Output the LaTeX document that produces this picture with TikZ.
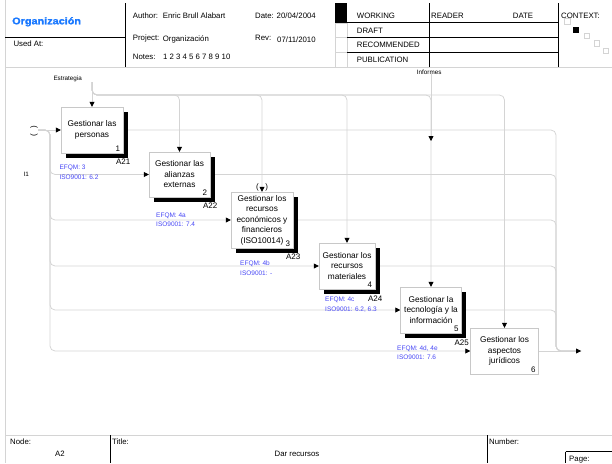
\documentclass[tikz,border=0pt]{standalone}
\usepackage{fontspec}
\setmainfont{Liberation Sans}
\newfontfamily\fuentetit[UprightFont={* Bold}, FakeStretch=1.12, FakeBold=1.5]{Liberation Sans}
\usetikzlibrary{positioning, shapes, arrows.meta, shadows, backgrounds}

\definecolor{gris}{RGB}{212,212,212}
\definecolor{grisborde}{RGB}{200,200,200}
\definecolor{azul}{RGB}{70,70,245}
\definecolor{azultit}{RGB}{25,120,255}

\begin{document}
\begin{tikzpicture}[x=1pt, y=-1pt,
	funcion/.style={rectangle, draw=grisborde, fill=white, align=center, inner sep=1pt, font=\fontsize{8.3}{10.5}\selectfont},
	sombra/.style={general shadow={fill=black, shadow xshift=4.5pt, shadow yshift=-4.5pt}},
	num/.style={inner sep=0pt, font=\fontsize{8}{9}\selectfont},
	calidad/.style={anchor=north west, inner sep=0pt, align=left, text=azul, font=\fontsize{6.5}{9.5}\selectfont},
	etiq/.style={anchor=base west, inner sep=0pt, font=\fontsize{6.3}{7}\selectfont},
	cab/.style={anchor=base west, inner sep=0pt, font=\fontsize{7.8}{9}\selectfont},
	cable/.style={draw=gris, line width=0.75pt, rounded corners=5pt},
	flecha/.style={cable, -{Triangle[length=5pt, width=5pt, color=black]}}]
	\useasboundingbox (0,0) rectangle (612,463);

	% Marco
	\draw[gris, line width=0.75pt] (5,0) -- (5,463);
	\draw[gris, line width=0.75pt] (5,67) -- (612,67);
	\draw[gris, line width=0.75pt] (5,435) -- (612,435);

	% Cabecera
	\draw[line width=0.8pt] (125,3) -- (125,67);
	\draw[line width=0.8pt] (5,37.3) -- (125,37.3);
	\node[anchor=base west, inner sep=0pt, text=azultit, font=\fontsize{9.7}{11}\fuentetit] (torg) at (12,24.3) {Organización};
	\node[cab] (tusa) at (13.3,46.7) {Used At:};
	\node[cab] (taut) at (132.7,18.3) {Author:};
	\node[cab] (tautn) at (162.7,18.3) {Enric Brull Alabart};
	\node[cab] (tdat) at (255,18.3) {Date: 20/04/2004};
	\node[cab] (tpro) at (132.7,40) {Project:};
	\node[cab] (tpron) at (162.7,41.7) {Organización};
	\node[cab] (trev) at (255,40.7) {Rev:};
	\node[cab] (trevn) at (277,42.3) {07/11/2010};
	\node[cab] (tnot) at (132.7,59.3) {Notes:};
	\node[cab] (tnotn) at (163,59.3) {1 2 3 4 5 6 7 8 9 10};

	% Estado
	\fill (335,3) rectangle (347,22.7);
	\draw[gris] (335,22.7) rectangle (347,37.3) (335,37.3) rectangle (347,52.3) (335,52.3) rectangle (347,67);
	\draw[line width=0.8pt] (347,22.7) -- (558.7,22.7) (347,37.3) -- (558.7,37.3) (347,52.3) -- (558.7,52.3);
	\draw[line width=0.8pt] (429.3,3) -- (429.3,67) (558.7,3) -- (558.7,67);
	\node[cab] (twor) at (356.7,18.3) {WORKING};
	\node[cab] (tdra) at (356.7,33.3) {DRAFT};
	\node[cab] (trec) at (356.7,47.7) {RECOMMENDED};
	\node[cab] (tpub) at (356.7,62.7) {PUBLICATION};
	\node[cab] (trea) at (431,18.3) {READER};
	\node[cab] (tdate) at (512.7,18.3) {DATE};
	\node[cab] (tcon) at (561,18.3) {CONTEXT:};
	\fill (573.3,26.7) rectangle (579.3,32.7);
	\draw[gris] (564.3,18.3) rectangle (570,24.3) (584.3,32.7) rectangle (589.3,37.7) (594,40) rectangle (599.3,45.7) (603.3,47.7) rectangle (608.3,53.3);

	% Pie
	\draw[line width=0.8pt] (110.5,435) -- (110.5,463) (487.5,435) -- (487.5,463);
	\draw[line width=0.8pt] (565.6,451.7) -- (565.6,463) (565.6,451.7) -- (612,451.7);
	\node[cab] (tnod) at (10,444.5) {Node:};
	\node[cab, anchor=base] (tnodn) at (60,456) {A2};
	\node[cab] (ttit) at (112,444.5) {Title:};
	\node[cab, anchor=base] (ttitn) at (297,456) {Dar recursos};
	\node[cab] (tnum) at (489,444.5) {Number:};
	\node[cab] (tpag) at (569,461.5) {Page:};

	% Funciones
	\node[funcion, sombra, minimum width=62pt, minimum height=46pt] (b1) at (92,130) {Gestionar las\\personas};
	\node[funcion, sombra, minimum width=61pt, minimum height=45pt] (b2) at (179.5,174.5) {Gestionar las\\alianzas\\externas};
	\node[funcion, sombra, minimum width=62pt, minimum height=56pt] (b3) at (262,220) {Gestionar los\\recursos\\económicos y\\financieros\\(ISO10014)};
	\node[funcion, sombra, minimum width=56pt, minimum height=46pt] (b4) at (347,266) {Gestionar los\\recursos\\materiales};
	\node[funcion, sombra, minimum width=61pt, minimum height=46pt] (b5) at (431,310) {Gestionar la\\tecnología y la\\información};
	\node[funcion, minimum width=68pt, minimum height=46pt] (b6) at (504.5,351) {Gestionar los\\aspectos\\jurídicos};

	% Numeros y nodos
	\node[num, anchor=south east] (n1) at ([xshift=-3pt, yshift=1.5pt]b1.south east) {1};
	\node[num, anchor=south east] (n2) at ([xshift=-3pt, yshift=1.5pt]b2.south east) {2};
	\node[num, anchor=south east] (n3) at ([xshift=-3pt, yshift=1.5pt]b3.south east) {3};
	\node[num, anchor=south east] (n4) at ([xshift=-3pt, yshift=1.5pt]b4.south east) {4};
	\node[num, anchor=south east] (n5) at ([xshift=-3pt, yshift=1.5pt]b5.south east) {5};
	\node[num, anchor=south east] (n6) at ([xshift=-3pt, yshift=1.5pt]b6.south east) {6};
	\node[num, anchor=north] (a21) at ([yshift=-6pt]b1.south east) {A21};
	\node[num, anchor=north] (a22) at ([yshift=-6pt]b2.south east) {A22};
	\node[num, anchor=north] (a23) at ([yshift=-6pt]b3.south east) {A23};
	\node[num, anchor=north] (a24) at ([yshift=-7pt]b4.south east) {A24};
	\node[num, anchor=north] (a25) at ([yshift=-7pt]b5.south east) {A25};

	% Referencias de calidad
	\node[calidad] (q1) at (59.3,165) {EFQM: 3\\ISO9001: 6.2};
	\node[calidad] (q2) at (156,212.7) {EFQM: 4a\\ISO9001: 7.4};
	\node[calidad] (q3) at (240,261) {EFQM: 4b\\ISO9001: -};
	\node[calidad] (q4) at (325,297) {EFQM: 4c\\ISO9001: 6.2, 6.3};
	\node[calidad] (q5) at (397,345.3) {EFQM: 4d, 4e\\ISO9001: 7.6};

	% Etiquetas de flechas
	\node[etiq] (lest) at (53.3,80.5) {Estrategia};
	\node[etiq] (linf) at (416.7,74) {Informes};
	\node[etiq] (li1) at (23.3,176.5) {I1};
	\node[rotate=90, inner sep=0pt, font=\fontsize{8}{8}\selectfont] (tun1) at (34,131) {(\hspace{6pt})};
	\node[inner sep=0pt, font=\fontsize{8}{8}\selectfont] (tun3) at ([yshift=4.5pt]b3.north) {(\hspace{6.5pt})};

	\coordinate (cin) at (38,130);
	\coordinate (cbaj) at (50,0);
	\coordinate (cest) at (92,82);
	\coordinate (cy) at (0,95);
	\coordinate (cinf) at (431,141);
	\coordinate (cx) at (556,0);
	\coordinate (cout) at (581,351);

	\begin{scope}[on background layer]
		% Entradas
		\draw[flecha] (cin) -- (b1.west);
		\draw[flecha] (cin) -| (cbaj |- b2.west) -- (b2.west);
		\draw[flecha] (cin) -| (cbaj |- b3.west) -- (b3.west);
		\draw[flecha] (cin) -| (cbaj |- b4.west) -- (b4.west);
		\draw[flecha] (cin) -| (cbaj |- b5.west) -- (b5.west);
		\draw[flecha] (cin) -| (cbaj |- b6.west) -- (b6.west);

		% Controles
		\draw[flecha] (cest) -- (b1.north);
		\draw[flecha] (cest) |- (b2.north |- cy) -- (b2.north);
		\draw[flecha] (cest) |- (b3.north |- cy) -- (b3.north);
		\draw[flecha] (cest) |- (b4.north |- cy) -- (b4.north);
		\draw[flecha] (cest) |- (b5.north |- cy) -- (b5.north);
		\draw[flecha] (cest) |- (b6.north |- cy) -- (b6.north);
		\draw[flecha] (cinf |- linf.south) -- (cinf);

		% Salidas
		\draw[cable] (b1.east) -| (cx |- cout) -- (cout);
		\draw[cable] (b2.east) -| (cx |- cout) -- (cout);
		\draw[cable] (b3.east) -| (cx |- cout) -- (cout);
		\draw[cable] (b4.east) -| (cx |- cout) -- (cout);
		\draw[cable] (b5.east) -| (cx |- cout) -- (cout);
		\draw[flecha] (b6.east) -- (cout);
	\end{scope}
\end{tikzpicture}
\end{document}
